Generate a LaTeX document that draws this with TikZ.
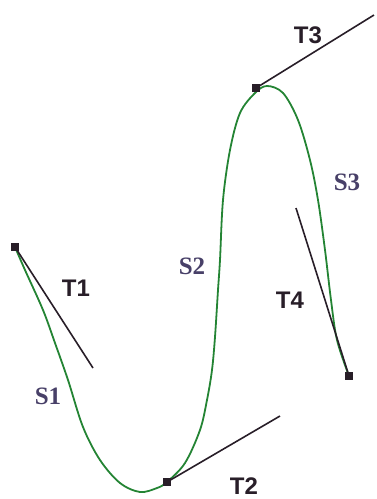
\documentclass[tikz,border=0pt]{standalone}
\usepackage{fontspec}
\setmainfont{Liberation Serif}
\newfontfamily\tfont{Liberation Sans}
\definecolor{curvegreen}{RGB}{36,132,52}
\definecolor{tanblack}{RGB}{40,30,40}
\definecolor{slabel}{RGB}{72,64,104}
\begin{document}
\begin{tikzpicture}[x=1pt,y=-1pt,
  marker/.style={fill=tanblack,minimum size=7.5pt,inner sep=0pt,outer sep=0pt,draw=none},
  tanline/.style={draw=tanblack,line width=1.6pt},
  curveline/.style={draw=curvegreen,line width=1.8pt},
  tlabel/.style={text=tanblack,font=\tfont\bfseries\fontsize{24}{24}\selectfont,inner sep=0pt},
  slabel/.style={text=slabel,font=\bfseries\fontsize{25}{25}\selectfont,inner sep=0pt}]
\useasboundingbox (0,0) rectangle (376,499);
% spline curve
\draw[curveline] plot[smooth,tension=0.55] coordinates {
 (15,247) (25,270) (43,310) (55,343) (68,380) (83,427) (100,460) (120,483)
 (140,492) (157,488) (167,482) (185,463) (200,430) (207,400) (212,370)
 (215,337) (218,290) (220,260) (223,200) (230,150) (240,113) (255,93)
 (267,86) (283,93) (298,120) (310,160) (318,200) (325,250) (331,300) (337,340) (349,376)};
% control points
\node[marker] (p0) at (15,247) {};
\node[marker] (p1) at (167,482) {};
\node[marker] (p2) at (256,88) {};
\node[marker] (p3) at (349,376) {};
\coordinate (t1) at (93,368);
\coordinate (t2) at (280,416);
\coordinate (t3) at (374,15);
\coordinate (t4) at (296,208);
% tangents
\draw[tanline] (p0.center) -- (t1);
\draw[tanline] (p1.center) -- (t2);
\draw[tanline] (p2.center) -- (t3);
\draw[tanline] (t4) -- (p3.center);
% labels
\node[tlabel] (lt1) at (76,288) {T1};
\node[tlabel] (lt2) at (244,486) {T2};
\node[tlabel] (lt3) at (308,35) {T3};
\node[tlabel] (lt4) at (290,300) {T4};
\node[slabel] (ls1) at (48,396) {S1};
\node[slabel] (ls2) at (192,266) {S2};
\node[slabel] (ls3) at (347,182) {S3};
\end{tikzpicture}
\end{document}
